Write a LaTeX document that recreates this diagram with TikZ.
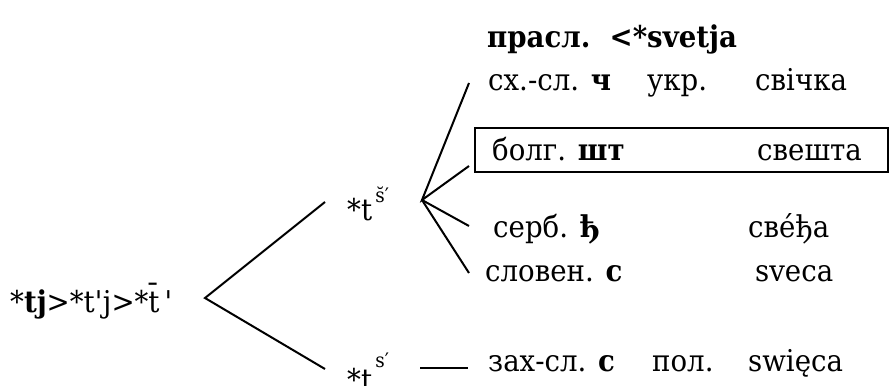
\documentclass[tikz,border=0pt]{standalone}
\usepackage{fontspec}
\setmainfont{DejaVu Serif}[FakeStretch=0.92]
\begin{document}
\begin{tikzpicture}[x=1pt,y=-1pt,
  lbl/.style={anchor=base west, inner sep=0pt, font=\fontsize{30}{36}\selectfont},
  sup/.style={},
  ln/.style={line width=2pt, line cap=butt}]
\useasboundingbox (0,0) rectangle (890,385);
% texts
\node[lbl] (root) at (10,312) {*\textbf{tj}>*t\textquotesingle j>*\={t}\,\textquotesingle};
\node[lbl] (ts) at (347,220) {*t\raisebox{18pt}{\fontsize{20}{22}\selectfont\,\u{s}′}};
\node[lbl] (ts2) at (347,390) {*t\raisebox{23pt}{\fontsize{20}{22}\selectfont\,s′}};
\node[lbl] (title) at (487,48) {\textbf{прасл.\ \ <*svetja}};
\node[lbl] (r1a) at (488,91) {сх.-сл. \textbf{ч}};
\node[lbl] (r1b) at (647,91) {укр.};
\node[lbl] (r1c) at (755,91) {свічка};
\node[lbl] (r2a) at (492,160) {болг. \textbf{шт}};
\node[lbl] (r2c) at (757,160) {свешта};
\node[lbl] (r3a) at (493,237) {серб. \textbf{ђ}};
\node[lbl] (r3c) at (748,237) {свéђа};
\node[lbl] (r4a) at (485,281) {словен. \textbf{с}};
\node[lbl] (r4c) at (755,281) {sveca};
\node[lbl] (r5a) at (488,371) {зах-сл. \textbf{с}};
\node[lbl] (r5b) at (652,371) {пол.};
\node[lbl] (r5c) at (748,371) {swięca};
% box
\draw[line width=2pt] (475,128) rectangle (888,172);
% connector points
\coordinate (v1) at (205,298);
\coordinate (m1) at (325,202);
\coordinate (m2) at (325,369);
\coordinate (v2) at (422,200);
\coordinate (e1) at (469,83);
\coordinate (e2) at (469,166);
\coordinate (e3) at (469,226);
\coordinate (e4) at (469,273);
\coordinate (h1) at (420,368);
\coordinate (h2) at (468,368);
\draw[ln] (m1) -- (v1) -- (m2);
\draw[ln] (e1) -- (v2) -- (e2);
\draw[ln] (v2) -- (e3);
\draw[ln] (v2) -- (e4);
\draw[ln] (h1) -- (h2);
\end{tikzpicture}
\end{document}
